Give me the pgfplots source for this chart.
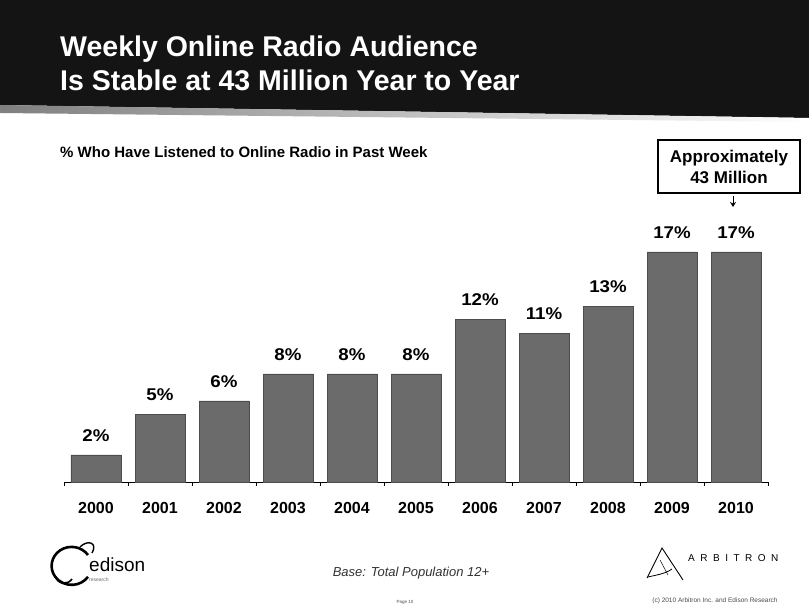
\documentclass[border=0pt]{standalone}
\usepackage{fontspec}
\setmainfont{Liberation Sans}
\newfontfamily\widefont[FakeStretch=1.1]{Liberation Sans}
\newfontfamily\spacedfont[LetterSpace=55]{Liberation Sans}
\usepackage{pgfplots}
\pgfplotsset{compat=1.18}
\usetikzlibrary{arrows.meta}
\definecolor{bargray}{gray}{0.42}
\begin{document}
\begin{tikzpicture}
\begin{scope}[x=1pt,y=1pt]
\useasboundingbox (0,0) rectangle (809,605);
\fill[white] (0,0) rectangle (809,605);
% header band
\fill[black!92] (0,500) -- (809,487) -- (809,605) -- (0,605) -- cycle;
\shade[left color=black!50,right color=white] (0,500) -- (809,487) -- (809,483) -- (0,492) -- cycle;
\node[anchor=base west,text=white,font=\bfseries\fontsize{28.5}{28.5}\selectfont,inner sep=0] at (60,548) {Weekly Online Radio Audience};
\node[anchor=base west,text=white,font=\bfseries\fontsize{28.5}{28.5}\selectfont,inner sep=0] at (60,514) {Is Stable at 43 Million Year to Year};
% subtitle
\node[anchor=base west,font=\bfseries\fontsize{15}{15}\selectfont,inner sep=0] at (60,447) {\% Who Have Listened to Online Radio in Past Week};
\end{scope}
\begin{axis}[
  at={(64pt,123pt)}, anchor=south west, scale only axis,
  width=704pt, height=230pt,
  xmin=-0.5, xmax=10.5, ymin=0, ymax=17,
  axis x line*=bottom, axis y line=none,
  x axis line style={black, line width=0.8pt, -},
  ybar, bar width=50pt,
  xtick={0,1,2,3,4,5,6,7,8,9,10},
  xticklabels={2000,2001,2002,2003,2004,2005,2006,2007,2008,2009,2010},
  major x tick style={draw=none},
  minor xtick={-0.5,0.5,1.5,2.5,3.5,4.5,5.5,6.5,7.5,8.5,9.5,10.5},
  minor tick length=4pt, tick align=outside,
  minor x tick style={black, line width=0.6pt},
  xticklabel style={font=\bfseries\fontsize{16}{16}\selectfont, yshift=-13pt},
  /pgf/number format/assume math mode=true,
  nodes near coords={\pgfmathprintnumber{\pgfplotspointmeta}\%},
  nodes near coords style={font=\widefont\bfseries\fontsize{17}{17}\selectfont, yshift=10pt},
  clip=false,
]
\addplot[fill=bargray, draw=black!70] coordinates {(0,2) (1,5) (2,6) (3,8) (4,8) (5,8) (6,12) (7,11) (8,13) (9,17) (10,17)};
\end{axis}
\begin{scope}[x=1pt,y=1pt]
% callout
\draw[line width=1.3pt] (658,412) rectangle (800,465);
\node[font=\bfseries\fontsize{17}{17}\selectfont,inner sep=0,anchor=base] at (729,442) {Approximately};
\node[font=\bfseries\fontsize{17}{17}\selectfont,inner sep=0,anchor=base] at (729,421) {43 Million};
\draw[-{Stealth[length=5pt,width=6pt]},line width=0.7pt] (733,409) -- (733,398);
% edison logo
\draw[line width=2.6pt] (88,50) arc[start angle=35,end angle=325,x radius=20,y radius=19];
\draw[line width=1.6pt] (55,29) .. controls (58,20) and (68,20) .. (72,26);
\draw[line width=1.4pt] (80,58) .. controls (88,66) and (98,62) .. (92,52);
\node[anchor=base west,font=\fontsize{19}{19}\selectfont,inner sep=0] at (89,33) {edison};
\node[anchor=base west,font=\fontsize{5}{5}\selectfont,inner sep=0,text=black!60] at (89,23) {research};
% base note
\node[font=\itshape\fontsize{13}{13}\selectfont,text=black!80] at (411,32) {Base: Total Population 12+};
\node[font=\fontsize{4.5}{4.5}\selectfont,text=black!70] at (405,3) {Page 10};
% arbitron logo
\draw[line width=0.9pt] (647,27) -- (662,57) -- (683,25);
\draw[line width=0.8pt] (648,28) .. controls (656,30) and (665,31) .. (672,36);
\draw[line width=0.5pt] (660,45) -- (668,30);
\node[anchor=west,font=\spacedfont\fontsize{10}{10}\selectfont,inner sep=0] at (688,47) {ARBITRON};
\node[font=\fontsize{6.5}{6.5}\selectfont,text=black!70] at (715,4) {(c) 2010 Arbitron Inc. and Edison Research};
\end{scope}
\end{tikzpicture}
\end{document}
